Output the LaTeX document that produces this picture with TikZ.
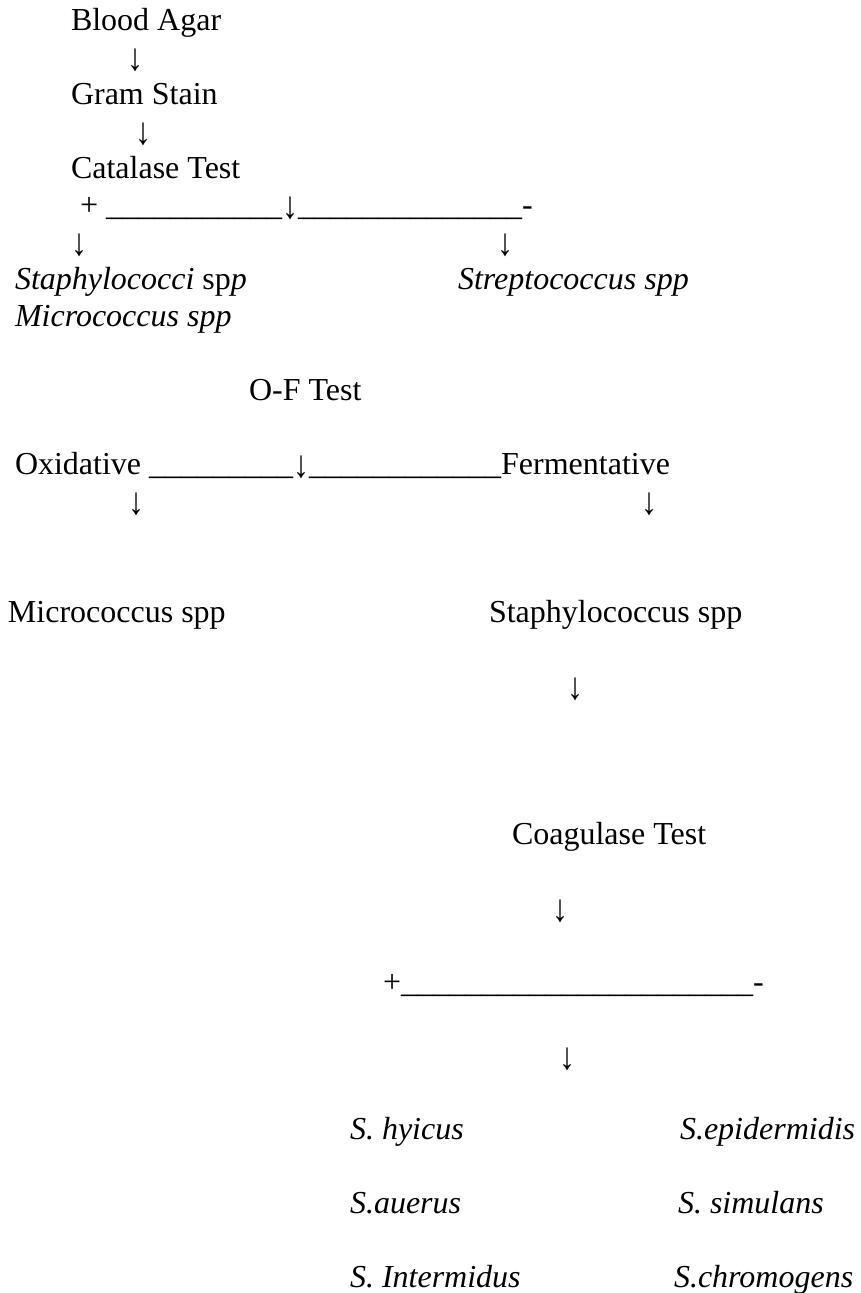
\documentclass[tikz,border=0pt]{standalone}
\usepackage{fontspec}
\usepackage{graphicx}
\setmainfont{Liberation Serif}
\newcommand{\darr}{\raisebox{-3pt}{\scalebox{1}[1.2]{↓}}}
\begin{document}
\begin{tikzpicture}[x=1pt,y=-1pt,
  txt/.style={inner sep=0pt, outer sep=0pt, anchor=base west, font=\fontsize{32}{37}\selectfont},
  arr/.style={inner sep=0pt, outer sep=0pt, anchor=base, font=\fontsize{32}{37}\selectfont}]
\useasboundingbox (0,0) rectangle (860,1293);
\fill[white] (0,0) rectangle (860,1293);
% top chain
\node[txt] (blood) at (71,30) {Blood Agar};
\node[arr] (a1) at (135,67) {\darr};
\node[txt] (gram) at (71,104) {Gram Stain};
\node[arr] (a2) at (143,141) {\darr};
\node[txt] (cat) at (71,178) {Catalase Test};
\node[txt] (catrow) at (80,215) {+ \_\_\_\_\_\_\_\_\_\_\_\darr\_\_\_\_\_\_\_\_\_\_\_\_\_\_-};
\node[arr] (a3) at (79,252) {\darr};
\node[arr] (a4) at (505,252) {\darr};
\node[txt] (staphi) at (15,289) {\textit{Staphylococci} sp\textit{p}};
\node[txt] (strep) at (458,289) {\textit{Streptococcus spp}};
\node[txt] (micro1) at (15,326) {\textit{Micrococcus spp}};
% O-F test
\node[txt] (of) at (249,400) {O-F Test};
\node[txt] (ofrow) at (15,474) {Oxidative \_\_\_\_\_\_\_\_\_\darr\_\_\_\_\_\_\_\_\_\_\_\_Fermentative};
\node[arr] (a5) at (136,511) {\darr};
\node[arr] (a6) at (649,511) {\darr};
\node[txt] (micro2) at (8,622) {Micrococcus spp};
\node[txt] (staph) at (489,622) {Staphylococcus spp};
\node[arr] (a7) at (575,696) {\darr};
% coagulase
\node[txt] (coag) at (512,844) {Coagulase Test};
\node[arr] (a8) at (560,918) {\darr};
\node[txt] (coagrow) at (383,992) {+\_\_\_\_\_\_\_\_\_\_\_\_\_\_\_\_\_\_\_\_\_\_-};
\node[arr] (a9) at (567,1066) {\darr};
\node[txt] (hyi) at (350,1139) {\textit{S. hyicus}};
\node[txt] (epi) at (680,1139) {\textit{S.epidermidis}};
\node[txt] (aur) at (350,1213) {\textit{S.auerus}};
\node[txt] (sim) at (678,1213) {\textit{S. simulans}};
\node[txt] (int) at (350,1287) {\textit{S. Intermidus}};
\node[txt] (chr) at (674,1287) {\textit{S.chromogens}};
\end{tikzpicture}
\end{document}
